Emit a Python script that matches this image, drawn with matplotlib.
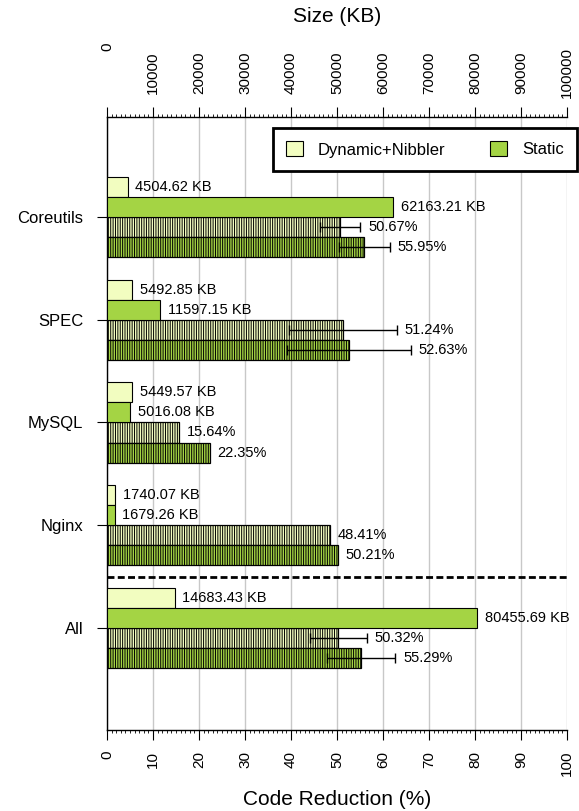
import numpy as np
import matplotlib.pyplot as plt
import matplotlib.transforms as mtransforms
from matplotlib.ticker import MultipleLocator
from matplotlib.patches import Patch

plt.rcParams['font.family'] = ['Liberation Sans', 'DejaVu Sans']
plt.rcParams['hatch.linewidth'] = 0.7

# data
apps = ['Coreutils', 'SPEC', 'MySQL', 'Nginx', 'All']
size_dyn = [4504.62, 5492.85, 5449.57, 1740.07, 14683.43]
size_static = [62163.21, 11597.15, 5016.08, 1679.26, 80455.69]
red_dyn = [50.67, 51.24, 15.64, 48.41, 50.32]
red_static = [55.95, 52.63, 22.35, 50.21, 55.29]
err_dyn = [4.4, 11.7, 0, 0, 6.2]
err_static = [5.6, 13.4, 0, 0, 7.4]
size_ticks = list(range(0, 100001, 10000))

c_dyn = '#f2fdc0'
c_static = '#a4d444'

pos = np.arange(len(apps))
h = 0.195

fig = plt.figure(figsize=(5.79, 8.11), dpi=100)
ax = fig.add_axes([107/579, 81/811, 460/579, 613/811])
ax2 = ax.twiny()

# size bars (top axis)
ax2.barh(pos - 1.5*h, size_dyn, height=h, color=c_dyn, edgecolor='black', linewidth=0.8, zorder=3)
ax2.barh(pos - 0.5*h, size_static, height=h, color=c_static, edgecolor='black', linewidth=0.8, zorder=3)
for i in range(len(apps)):
    ax2.annotate(f'{size_dyn[i]:.2f} KB', (size_dyn[i], pos[i] - 1.5*h), xytext=(5.5, 0),
                 textcoords='offset points', va='center', ha='left', fontsize=10.5)
    ax2.annotate(f'{size_static[i]:.2f} KB', (size_static[i], pos[i] - 0.5*h), xytext=(5.5, 0),
                 textcoords='offset points', va='center', ha='left', fontsize=10.5)

# code reduction bars (bottom axis)
ax.barh(pos + 0.5*h, red_dyn, height=h, color=c_dyn, edgecolor='black', linewidth=0.9,
        hatch='|||||||', zorder=3)
ax.barh(pos + 1.5*h, red_static, height=h, color=c_static, edgecolor='black', linewidth=0.9,
        hatch='|||||||', zorder=3)
for i in range(len(apps)):
    if err_dyn[i] > 0:
        ax.errorbar(red_dyn[i], pos[i] + 0.5*h, xerr=err_dyn[i], fmt='none', ecolor='black',
                    elinewidth=1, capsize=3.5, capthick=1, zorder=4)
    if err_static[i] > 0:
        ax.errorbar(red_static[i], pos[i] + 1.5*h, xerr=err_static[i], fmt='none', ecolor='black',
                    elinewidth=1, capsize=3.5, capthick=1, zorder=4)
    ax.annotate(f'{red_dyn[i]:.2f}%', (red_dyn[i] + err_dyn[i], pos[i] + 0.5*h), xytext=(5.5, 0),
                textcoords='offset points', va='center', ha='left', fontsize=10.5, zorder=5)
    ax.annotate(f'{red_static[i]:.2f}%', (red_static[i] + err_static[i], pos[i] + 1.5*h), xytext=(5.5, 0),
                textcoords='offset points', va='center', ha='left', fontsize=10.5, zorder=5)

# separator before "All"
ax.axhline(3.5, color='black', linewidth=2, linestyle=(0, (2.5, 1.2)), zorder=4)

ax.set_ylim(4.993, -0.973)
ax.set_xlim(0, 100)
ax2.set_xlim(0, 100000)

ax.set_yticks(pos)
ax.set_yticklabels(apps, fontsize=12)
ax.tick_params(axis='y', length=7, width=0.8, pad=10, direction='out')

ax.xaxis.set_major_locator(MultipleLocator(10))
ax.xaxis.set_minor_locator(MultipleLocator(1))
ax.tick_params(axis='x', which='major', length=7, width=0.8, direction='out',
               labelrotation=90, labelsize=11, pad=8)
ax.tick_params(axis='x', which='minor', length=2.5, width=0.6, direction='out')
ax.grid(axis='x', color='#c8c8c8', linewidth=1, zorder=0)
ax.set_axisbelow(True)

# top axis labels: the "0" sits higher than the others in the original
ax2.set_xticks(size_ticks)
ax2.set_xticklabels([''] + [str(t) for t in size_ticks[1:]])
ax2.xaxis.set_minor_locator(MultipleLocator(1000))
ax2.tick_params(axis='x', which='major', length=7, width=0.8, direction='out',
                labelrotation=90, labelsize=11, pad=25)
ax2.tick_params(axis='x', which='minor', length=2.5, width=0.6, direction='out')
for lab in ax2.get_xticklabels():
    lab.set_va('center')
ax2.text(size_ticks[0], 1.1142, str(size_ticks[0]), rotation=90, ha='center', va='center',
         fontsize=11, transform=mtransforms.blended_transform_factory(ax2.transData, ax.transAxes),
         clip_on=False)

for s in ['right', 'top']:
    ax.spines[s].set_visible(False)
for s in ['right', 'left', 'bottom']:
    ax2.spines[s].set_visible(False)
ax.spines['left'].set_linewidth(1)
ax.spines['bottom'].set_linewidth(1)
ax2.spines['top'].set_linewidth(1)

ax.set_xlabel('Code Reduction (%)', fontsize=15, labelpad=10)
ax2.set_xlabel('Size (KB)', fontsize=15, labelpad=18)

handles = [Patch(facecolor=c_dyn, edgecolor='black', linewidth=0.8, label='Dynamic+Nibbler'),
           Patch(facecolor=c_static, edgecolor='black', linewidth=0.8, label='Static')]
leg = fig.legend(handles=handles, loc='upper right', bbox_to_anchor=(577/579, 1 - 128/811),
                 ncol=2, fontsize=12, frameon=True, fancybox=False, framealpha=1,
                 handlelength=1.0, handleheight=1.0, handletextpad=0.9, columnspacing=2.7,
                 borderpad=0.8, borderaxespad=0)
leg.get_frame().set_edgecolor('black')
leg.get_frame().set_linewidth(2)

fig.savefig('out.png', dpi=100)
